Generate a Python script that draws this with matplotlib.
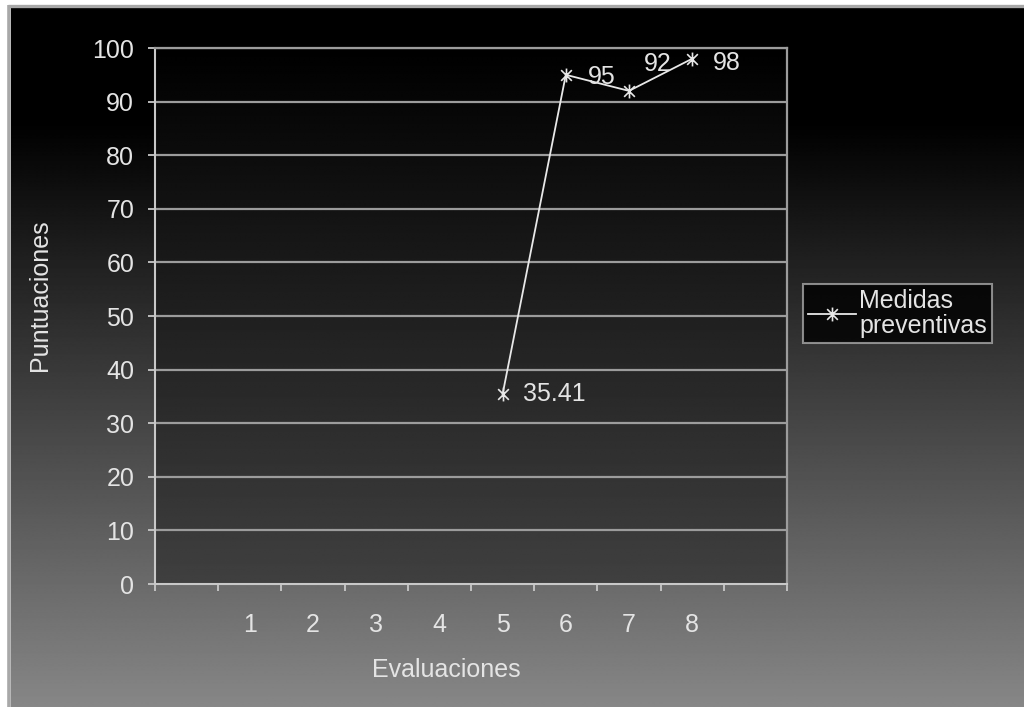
import numpy as np
import matplotlib
matplotlib.use("Agg")
import matplotlib.pyplot as plt
from matplotlib.lines import Line2D
from matplotlib.path import Path

plt.rcParams['font.family'] = ['Liberation Sans', 'DejaVu Sans']

# Data
evaluations = [1, 2, 3, 4, 5, 6, 7, 8]
scored_evals = [5, 6, 7, 8]
scores = [35.41, 95, 92, 98]
score_labels = ["35.41", "95", "92", "98"]
series_name = "Medidas\npreventivas"
y_ticks = list(range(0, 101, 10))

W, H = 1024, 707
FS = 18
TEXT = '#e4e4e4'

# Star marker: an X crossed by a vertical stroke
STAR = Path([(-1, -1), (1, 1), (-1, 1), (1, -1), (0, -1.3), (0, 1.3)],
            [Path.MOVETO, Path.LINETO, Path.MOVETO, Path.LINETO,
             Path.MOVETO, Path.LINETO])

fig = plt.figure(figsize=(W / 100, H / 100), dpi=100, facecolor='white')

# Background: black at the top fading to mid gray at the bottom
bg = fig.add_axes([0, 0, 1, 1], zorder=-10)
bg.set_xlim(0, W)
bg.set_ylim(H, 0)
bg.axis('off')
rows = np.arange(H)
shade = np.clip((rows - 115) / (H - 115), 0, 1) * 135 / 255
grad = np.repeat(shade[:, None], 2, axis=1)
bg.imshow(grad, extent=(11, W, H, 7), cmap='gray', vmin=0, vmax=1,
          aspect='auto', interpolation='bilinear')
bg.plot([9, 9], [5, H], color='#a8a8a8', lw=2.6, solid_capstyle='butt')
bg.plot([8, W], [5.5, 5.5], color='#a8a8a8', lw=2.4, solid_capstyle='butt')

# Plot area
ax = fig.add_axes([155 / W, (H - 584) / H, 632 / W, 536 / H])
ax.set_xlim(0, 10)
ax.set_ylim(0, 100)
ax.patch.set_visible(False)
pshade = np.linspace(0, 0x40 / 255, 256)
ax.imshow(np.repeat(pshade[:, None], 2, axis=1), extent=(0, 10, 0, 100),
          origin='upper', cmap='gray', vmin=0, vmax=1, aspect='auto',
          zorder=0, interpolation='bilinear')

for v in y_ticks[1:]:
    ax.axhline(v, color='#9c9c9c', lw=1.6, zorder=1)

for side in ('left', 'bottom'):
    ax.spines[side].set_color('#c8c8c8')
    ax.spines[side].set_linewidth(1.5)
ax.spines['right'].set_color('#9c9c9c')
ax.spines['right'].set_linewidth(1.6)
ax.spines['top'].set_color('#9c9c9c')
ax.spines['top'].set_linewidth(1.6)

ax.set_yticks(y_ticks)
ax.set_yticklabels([str(v) for v in y_ticks])
ax.tick_params(axis='y', direction='out', length=5, width=1.3, color='#c8c8c8',
               labelcolor=TEXT, labelsize=FS, pad=10)

ax.set_xticks(range(0, 11))
ax.set_xticklabels([])
ax.set_xticks([e + 0.5 for e in evaluations], minor=True)
ax.set_xticklabels([str(e) for e in evaluations], minor=True)
ax.tick_params(axis='x', which='major', direction='out', length=5, width=1.3,
               color='#c8c8c8')
ax.tick_params(axis='x', which='minor', length=0, labelcolor=TEXT,
               labelsize=FS, pad=21)

# Series
xs = [e + 0.5 for e in scored_evals]
ax.plot(xs, scores, color='#e8e8e8', lw=1.3, marker=STAR,
        markersize=10, markeredgewidth=1.2, zorder=3, clip_on=False)

offsets = [(15, 0), (16, -1.5), (11, 19), (15, -3)]
for x, y, lab, off in zip(xs, scores, score_labels, offsets):
    ax.annotate(lab, (x, y), xytext=off, textcoords='offset points',
                ha='left', va='center', color=TEXT, fontsize=FS, zorder=4)

# Axis titles
fig.text(446 / W, 1 - 670 / H, "Evaluaciones", ha='center', va='center',
         color=TEXT, fontsize=FS)
fig.text(40 / W, 1 - 295 / H, "Puntuaciones", ha='center', va='center',
         rotation=90, color=TEXT, fontsize=FS)

# Legend
handle = Line2D([], [], color='#e8e8e8', lw=1.3, marker=STAR,
                markersize=10, markeredgewidth=1.2)
leg = fig.legend([handle], [series_name], loc='upper left',
                 bbox_to_anchor=(803 / W, 1 - 284 / H), frameon=True,
                 fancybox=False, fontsize=FS, labelcolor=TEXT,
                 handlelength=1.9, handletextpad=0.15, borderpad=0.2,
                 borderaxespad=0)
leg.get_frame().set_facecolor('black')
leg.get_frame().set_edgecolor('#a8a8a8')
leg.get_frame().set_linewidth(1.5)
for t in leg.get_texts():
    t.set_linespacing(1.05)
    t.set_multialignment('left')

fig.savefig('out.png', dpi=100, facecolor=fig.get_facecolor())
